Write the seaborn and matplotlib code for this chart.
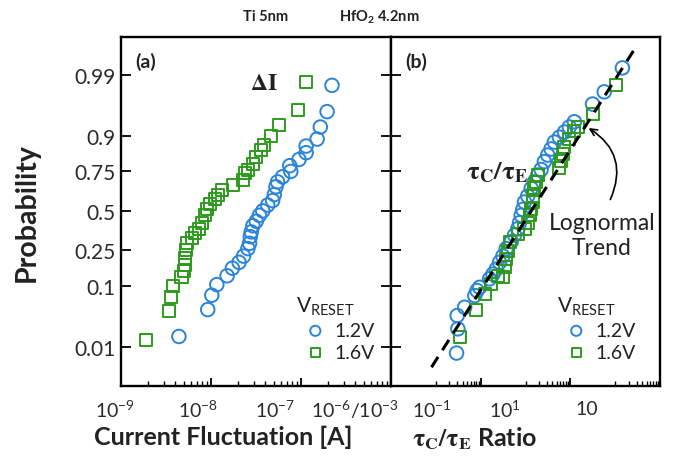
import numpy as np
import matplotlib
matplotlib.use("Agg")
import matplotlib.pyplot as plt
import seaborn as sns
from matplotlib.ticker import FixedLocator, NullLocator, LogLocator, NullFormatter
from statistics import NormalDist

# ---- data ----
# (a) current fluctuation, V_RESET = 1.2V
cur_12_x = [4.4e-9, 9.2e-9, 1.02e-8, 1.16e-8, 1.51e-8, 1.73e-8, 2.05e-8, 2.3e-8,
            2.57e-8, 2.68e-8, 2.73e-8, 2.8e-8, 2.92e-8, 3.18e-8, 3.45e-8, 3.76e-8,
            4.26e-8, 4.84e-8, 5.05e-8, 5.27e-8, 5.49e-8, 6.24e-8, 7.7e-8, 7.5e-8,
            9.5e-8, 1.14e-7, 1.14e-7, 1.51e-7, 1.64e-7, 1.95e-7, 2.21e-7]
cur_12_p = [0.016, 0.046, 0.075, 0.104, 0.134, 0.164, 0.19, 0.22,
            0.26, 0.29, 0.33, 0.36, 0.40, 0.43, 0.47, 0.50,
            0.54, 0.57, 0.61, 0.66, 0.69, 0.72, 0.75, 0.78,
            0.81, 0.84, 0.866, 0.89, 0.924, 0.955, 0.984]
# (a) current fluctuation, V_RESET = 1.6V
cur_16_x = [1.9e-9, 3.4e-9, 3.6e-9, 3.8e-9, 4.7e-9, 5.0e-9, 5.2e-9, 5.2e-9,
            5.3e-9, 5.4e-9, 6.1e-9, 6.7e-9, 7.4e-9, 7.9e-9, 8.6e-9, 9.1e-9,
            9.7e-9, 1.1e-8, 1.2e-8, 1.31e-8, 1.76e-8, 2.26e-8, 2.36e-8, 2.57e-8,
            2.92e-8, 3.18e-8, 3.6e-8, 3.9e-8, 4.6e-8, 5.7e-8, 9.3e-8, 1.13e-7]
cur_16_p = [0.014, 0.043, 0.070, 0.099, 0.131, 0.154, 0.18, 0.21,
            0.25, 0.29, 0.32, 0.35, 0.38, 0.42, 0.47, 0.51,
            0.55, 0.58, 0.61, 0.64, 0.67, 0.70, 0.74, 0.76,
            0.79, 0.82, 0.85, 0.87, 0.90, 0.929, 0.958, 0.986]

# (b) tau_C / tau_E ratio
tau_12_x = [0.029, 0.031, 0.030, 0.044, 0.074, 0.083, 0.095, 0.158, 0.188,
            0.223, 0.264, 0.313, 0.372, 0.481, 0.570, 0.675, 0.736, 0.80,
            0.871, 0.95, 1.12, 1.34, 1.58, 1.88, 2.23, 2.64, 3.13, 3.72,
            4.41, 5.7, 7.4, 9.5, 12.3, 31.3, 57.0, 145.0]
tau_12_p = [0.0076, 0.022, 0.037, 0.050, 0.074, 0.087, 0.096, 0.123, 0.14,
            0.16, 0.19, 0.22, 0.26, 0.30, 0.34, 0.38, 0.42, 0.47,
            0.51, 0.56, 0.60, 0.65, 0.69, 0.73, 0.76, 0.80, 0.83, 0.855,
            0.88, 0.896, 0.911, 0.924, 0.936, 0.966, 0.979, 0.9927]
tau_16_x = [0.034, 0.077, 0.123, 0.173, 0.242, 0.313, 0.341, 0.372, 0.404,
            0.44, 0.675, 0.95, 1.12, 1.23, 1.34, 1.45, 1.5, 1.58, 1.73,
            1.88, 5.7, 6.2, 6.7, 7.4, 9.5, 12.3, 14.5, 32.4, 104.0]
tau_16_p = [0.0154, 0.046, 0.078, 0.106, 0.134, 0.129, 0.168, 0.206, 0.248,
            0.30, 0.347, 0.38, 0.42, 0.47, 0.51, 0.56, 0.60, 0.65, 0.69,
            0.73, 0.77, 0.805, 0.835, 0.862, 0.891, 0.915, 0.924, 0.951, 0.984]
# lognormal trend line end points
trend_x = [8.0e-3, 310.0]
trend_p = [0.0038, 0.9977]

prob_ticks = [0.01, 0.1, 0.25, 0.5, 0.75, 0.9, 0.99]
prob_labels = ['0.01', '0.1', '0.25', '0.5', '0.75', '0.9', '0.99']
xtick_texts = ['10$^{-9}$', '10$^{-8}$', '10$^{-7}$', '10$^{-6}$/10$^{-3}$',
               '10$^{-1}$', '10$^{1}$', '10']

BLUE = '#2a84d8'
GREEN = '#2e9a1c'
TXT = '#222222'

sns.set_theme(style="white")
plt.rcParams['font.family'] = ['Lato', 'DejaVu Sans']
plt.rcParams['mathtext.fontset'] = 'custom'
plt.rcParams['mathtext.rm'] = 'Lato'
plt.rcParams['mathtext.bf'] = 'Lato:bold'
plt.rcParams['mathtext.it'] = 'Lato:italic'
plt.rcParams['text.color'] = TXT

nd = NormalDist()


def prob_fwd(p):
    p = np.clip(np.asarray(p, dtype=float), 1e-9, 1 - 1e-9)
    return np.vectorize(nd.inv_cdf, otypes=[float])(p)


def prob_inv(z):
    return np.vectorize(nd.cdf, otypes=[float])(np.asarray(z, dtype=float))


W, H = 700, 464
fig = plt.figure(figsize=(7, 4.64), dpi=100)
ax1 = fig.add_axes([121 / W, 1 - 387 / H, 270 / W, 349 / H])
ax2 = fig.add_axes([391 / W, 1 - 387 / H, 269 / W, 349 / H], sharey=ax1)

# markers
circ = dict(marker='o', s=95, facecolor='none', edgecolor=BLUE, linewidth=1.4)
squa = dict(marker='s', s=75, facecolor='none', edgecolor=GREEN, linewidth=1.4)
sns.scatterplot(x=cur_12_x, y=cur_12_p, ax=ax1, label='1.2V', **circ)
sns.scatterplot(x=cur_16_x, y=cur_16_p, ax=ax1, label='1.6V', **squa)
sns.scatterplot(x=tau_12_x, y=tau_12_p, ax=ax2, label='1.2V', **circ)
sns.scatterplot(x=tau_16_x, y=tau_16_p, ax=ax2, label='1.6V', **squa)
sns.lineplot(x=trend_x, y=trend_p, ax=ax2, color='black', linewidth=2.2,
             linestyle=(0, (4, 2.6)), zorder=5, legend=False)

# probability (normal quantile) y scale
ax1.set_yscale('function', functions=(prob_fwd, prob_inv))
ax1.set_ylim(nd.cdf(-2.99), nd.cdf(2.97))
ax1.yaxis.set_major_locator(FixedLocator(prob_ticks))
ax1.yaxis.set_minor_locator(NullLocator())
ax1.set_yticklabels(prob_labels, fontsize=15, color='#2a2a2a')

# x scales
ax1.set_xscale('log')
ax1.set_xlim(1e-9, 1e-6)
ax1.xaxis.set_minor_locator(LogLocator(base=10, subs=np.arange(2, 10), numticks=20))
ax1.xaxis.set_minor_formatter(NullFormatter())

ax2.set_xscale('log')
ax2.set_xlim(1e-3, 1e3)
ax2.xaxis.set_major_locator(FixedLocator([1e-3, 1e-1, 1e1, 1e3]))
ax2.xaxis.set_minor_locator(FixedLocator([m * 10.0 ** k for k in (-2, 0, 2) for m in range(1, 10)]))
ax2.xaxis.set_minor_formatter(NullFormatter())

for ax in (ax1, ax2):
    for sp in ax.spines.values():
        sp.set_color('black')
        sp.set_linewidth(1.7)
    ax.tick_params(axis='both', which='both', direction='in', color='black',
                   labelbottom=False, bottom=True, top=False)
    ax.tick_params(axis='x', which='major', length=6, width=1.3)
    ax.tick_params(axis='x', which='minor', length=3.5, width=1.0)
    ax.tick_params(axis='y', which='major', length=7, width=1.3)
    ax.set_xlabel('')
    ax.set_ylabel('')
ax1.tick_params(axis='y', left=True, right=True, labelleft=True, pad=4)
ax2.tick_params(axis='y', left=True, right=False, labelleft=False)

# x tick labels, placed as in the reference
for txt, px in zip(xtick_texts, [115, 198, 275, 355, 432, 505, 587]):
    fig.text(px / W, 1 - 410 / H, txt, ha='center', va='center',
             fontsize=14, color='#2a2a2a')

# axis labels
ax1.set_ylabel('Probability', fontsize=20.5, fontweight='bold', color=TXT)
ax1.yaxis.set_label_coords(-0.30, 0.5)
ax1.set_xlabel('Current Fluctuation [A]', fontsize=18, fontweight='bold', color=TXT)
ax1.xaxis.set_label_coords(0.38, -0.11)
ax2.set_xlabel(r'$\mathbf{\tau_C/\tau_E}$ Ratio', fontsize=18, fontweight='bold',
               math_fontfamily='stix', color=TXT)
ax2.xaxis.set_label_coords(0.31, -0.11)

# annotations
fig.text(266 / W, 1 - 17 / H, 'Ti 5nm', ha='center', va='center',
         fontsize=10.5, fontweight='bold')
fig.text(379 / W, 1 - 17 / H, r'HfO$_\mathbf{2}$ 4.2nm', ha='center', va='center',
         fontsize=10.5, fontweight='bold')
ax1.text(0.09, 0.93, '(a)', transform=ax1.transAxes, ha='center', va='center',
         fontsize=14, fontweight='bold')
ax2.text(0.094, 0.93, '(b)', transform=ax2.transAxes, ha='center', va='center',
         fontsize=14, fontweight='bold')
ax1.text(0.53, 0.871, r'$\mathbf{\Delta I}$', transform=ax1.transAxes,
         ha='center', va='center', fontsize=17, math_fontfamily='stix')
ax2.text(0.394, 0.616, r'$\mathbf{\tau_C/\tau_E}$', transform=ax2.transAxes,
         ha='center', va='center', fontsize=19, math_fontfamily='stix')
ax2.text(0.784, 0.433, 'Lognormal\nTrend', transform=ax2.transAxes,
         ha='center', va='center', fontsize=16.5, linespacing=1.2)
ax2.annotate('', xy=(22.7, 0.925), xytext=(73.6, 0.56),
             arrowprops=dict(arrowstyle='->', color='black', lw=1.2,
                             connectionstyle='arc3,rad=0.45'))

# legends
for ax, anchor in ((ax1, (0.97, 0.05)), (ax2, (0.94, 0.05))):
    leg = ax.legend(title=r'V$_\mathrm{RESET}$', loc='lower right',
                    bbox_to_anchor=anchor, frameon=False, fontsize=14,
                    title_fontsize=15, handletextpad=0.0, markerscale=0.75,
                    labelspacing=0.25, borderaxespad=0.0, alignment='left')
    for t in leg.get_texts():
        t.set_color(TXT)

fig.savefig('out.png', dpi=100)
